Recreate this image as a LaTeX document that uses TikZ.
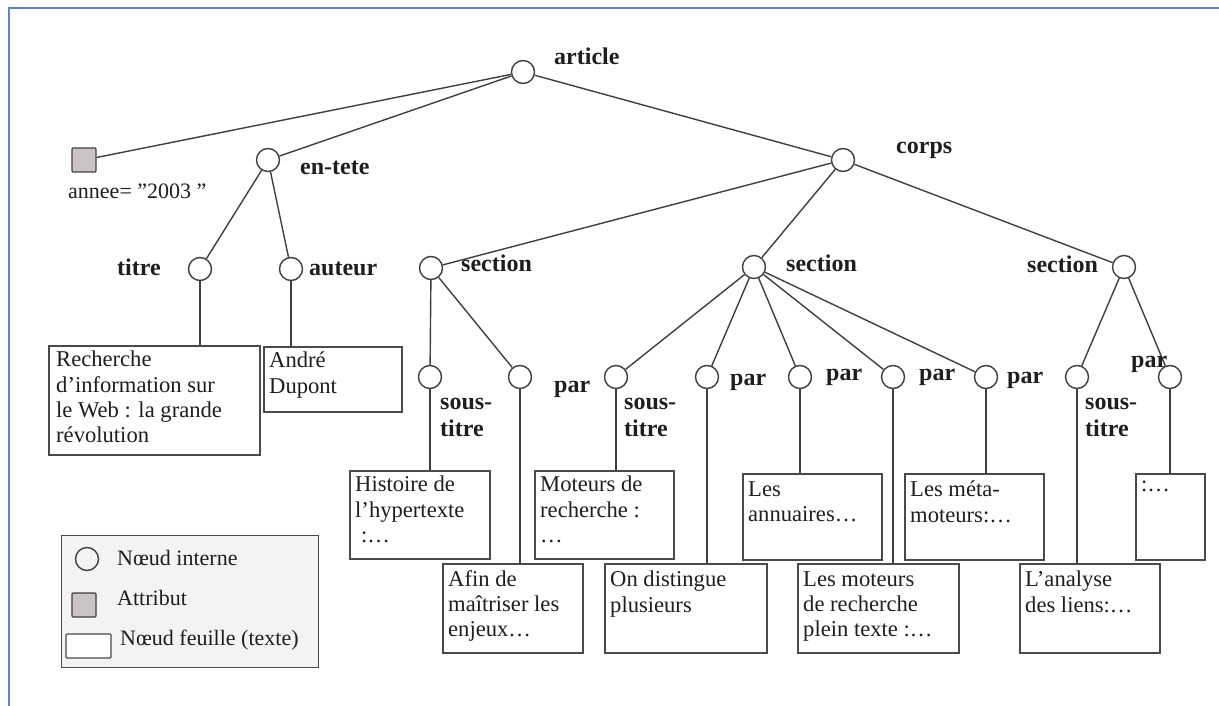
\documentclass[tikz,border=0pt]{standalone}
\usepackage{fontspec}
\setmainfont{Liberation Serif}
\definecolor{linec}{HTML}{3F3F3F}
\definecolor{boxc}{HTML}{4A4A4A}
\definecolor{txtc}{HTML}{1E1E1E}
\definecolor{attrc}{HTML}{CAC3C3}
\definecolor{legfill}{HTML}{F3F3F3}
\definecolor{framec}{HTML}{5B87C6}
\begin{document}
\begin{tikzpicture}[x=1pt,y=-1pt,
  inode/.style={circle, draw=linec, line width=1.4pt, minimum size=23pt, inner sep=0pt, fill=white},
  attr/.style={rectangle, draw=linec, line width=1.4pt, fill=attrc, minimum size=24pt, inner sep=0pt, rounded corners=1pt},
  lbl/.style={font=\fontsize{24}{27}\selectfont\bfseries, text=txtc, inner sep=0pt, anchor=base west},
  plain/.style={font=\fontsize{22}{25}\selectfont, text=txtc, inner sep=0pt, anchor=base west},
  leafbox/.style={rectangle, draw=boxc, line width=1.6pt, inner sep=0pt, anchor=north west},
  leaftxt/.style={font=\fontsize{22.6}{25.2}\selectfont, text=txtc, align=left, anchor=north west, inner sep=0pt},
  edge/.style={draw=linec, line width=1.4pt}]
\useasboundingbox (0,0) rectangle (1219,706);
% frame
\draw[framec, line width=2pt] (1219,8) -- (9,8) -- (9,706);

% internal nodes
\node[inode] (article) at (523,72) {};
\node[attr] (annee) at (84,160) {};
\node[inode] (entete) at (268,160) {};
\node[inode] (corps) at (843,160) {};
\node[inode] (titre) at (200,269) {};
\node[inode] (auteur) at (291,269) {};
\node[inode] (sec1) at (431,268) {};
\node[inode] (sec2) at (754,267) {};
\node[inode] (sec3) at (1124,267) {};
\node[inode] (st1) at (430,377) {};
\node[inode] (p1) at (520,377) {};
\node[inode] (st2) at (616,377) {};
\node[inode] (p2) at (707,377) {};
\node[inode] (p3) at (800,377) {};
\node[inode] (p4) at (893,377) {};
\node[inode] (p5) at (986,377) {};
\node[inode] (st3) at (1077,377) {};
\node[inode] (p6) at (1170,377) {};

% leaf boxes
\node[leafbox, minimum width=211pt, minimum height=109pt] (bRech) at (48,345) {};
\node[leafbox, minimum width=138pt, minimum height=65pt] (bAndre) at (263,346) {};
\node[leafbox, minimum width=140pt, minimum height=88pt] (bHist) at (349,470) {};
\node[leafbox, minimum width=140pt, minimum height=89pt] (bAfin) at (442,563) {};
\node[leafbox, minimum width=139pt, minimum height=88pt] (bMot) at (534,470) {};
\node[leafbox, minimum width=162pt, minimum height=89pt] (bDist) at (604,563) {};
\node[leafbox, minimum width=139pt, minimum height=86pt] (bAnn) at (742,473) {};
\node[leafbox, minimum width=161pt, minimum height=89pt] (bMoteurs) at (797,563) {};
\node[leafbox, minimum width=139pt, minimum height=86pt] (bMeta) at (904,473) {};
\node[leafbox, minimum width=140pt, minimum height=89pt] (bAnal) at (1019,563) {};
\node[leafbox, minimum width=69pt, minimum height=86pt] (bDots) at (1135,473) {};

% leaf texts
\node[leaftxt] (tRech) at ([xshift=8pt,yshift=-6pt]bRech.north west) {Recherche\\d'information sur\\le Web : la grande\\révolution};
\node[leaftxt] (tAndre) at ([xshift=6pt,yshift=-6pt]bAndre.north west) {André\\Dupont};
\node[leaftxt] (tHist) at ([xshift=6pt,yshift=-6pt]bHist.north west) {Histoire de\\l'hypertexte\\\hspace*{6pt}:…};
\node[leaftxt] (tAfin) at ([xshift=6pt,yshift=-7pt]bAfin.north west) {Afin de\\maîtriser les\\enjeux…};
\node[leaftxt] (tMot) at ([xshift=6pt,yshift=-6pt]bMot.north west) {Moteurs de\\recherche :\\…};
\node[leaftxt] (tDist) at ([xshift=6pt,yshift=-8pt]bDist.north west) {On distingue\\plusieurs};
\node[leaftxt] (tAnn) at ([xshift=6pt,yshift=-8pt]bAnn.north west) {Les\\annuaires…};
\node[leaftxt] (tMoteurs) at ([xshift=6pt,yshift=-8pt]bMoteurs.north west) {Les moteurs\\de recherche\\plein texte :…};
\node[leaftxt] (tMeta) at ([xshift=6pt,yshift=-8pt]bMeta.north west) {Les méta-\\moteurs:…};
\node[leaftxt] (tAnal) at ([xshift=6pt,yshift=-8pt]bAnal.north west) {L'analyse\\des liens:…};
\node[leaftxt] (tDots) at ([xshift=6pt,yshift=-8pt]bDots.north west) {:…};

% edges
\draw[edge] (article) -- (annee);
\draw[edge] (article) -- (entete);
\draw[edge] (article) -- (corps);
\draw[edge] (entete) -- (titre);
\draw[edge] (entete) -- (auteur);
\draw[edge] (corps) -- (sec1);
\draw[edge] (corps) -- (sec2);
\draw[edge] (corps) -- (sec3);
\draw[edge] (sec1) -- (st1);
\draw[edge] (sec1) -- (p1);
\draw[edge] (sec2) -- (st2);
\draw[edge] (sec2) -- (p2);
\draw[edge] (sec2) -- (p3);
\draw[edge] (sec2) -- (p4);
\draw[edge] (sec2) -- (p5);
\draw[edge] (sec3) -- (st3);
\draw[edge] (sec3) -- (p6);
\draw[edge] (titre.south) -- (titre.south |- bRech.north);
\draw[edge] (auteur.south) -- (auteur.south |- bAndre.north);
\draw[edge] (st1.south) -- (st1.south |- bHist.north);
\draw[edge] (p1.south) -- (p1.south |- bAfin.north);
\draw[edge] (st2.south) -- (st2.south |- bMot.north);
\draw[edge] (p2.south) -- (p2.south |- bDist.north);
\draw[edge] (p3.south) -- (p3.south |- bAnn.north);
\draw[edge] (p4.south) -- (p4.south |- bMoteurs.north);
\draw[edge] (p5.south) -- (p5.south |- bMeta.north);
\draw[edge] (st3.south) -- (st3.south |- bAnal.north);
\draw[edge] (p6.south) -- (p6.south |- bDots.north);

% labels
\node[lbl] (lArticle) at (554,65) {article};
\node[plain] (lAnnee) at (68,198) {annee= ”2003 ”};
\node[lbl] (lEntete) at (300,175) {en-tete};
\node[lbl] (lCorps) at (896,154) {corps};
\node[lbl] (lTitre) at (117,275) {titre};
\node[lbl] (lAuteur) at (309,275) {auteur};
\node[lbl] (lSec1) at (461,271) {section};
\node[lbl] (lSec2) at (786,271) {section};
\node[lbl] (lSec3) at (1027,272) {section};
\node[lbl, align=left, anchor=north west] (lSt1) at (440,398) {sous-\\titre};
\node[lbl] (lP1) at (554,392) {par};
\node[lbl, align=left, anchor=north west] (lSt2) at (624,398) {sous-\\titre};
\node[lbl] (lP2) at (730,385) {par};
\node[lbl] (lP3) at (826,380) {par};
\node[lbl] (lP4) at (919,380) {par};
\node[lbl] (lP5) at (1007,383) {par};
\node[lbl, align=left, anchor=north west] (lSt3) at (1085,398) {sous-\\titre};
\node[lbl] (lP6) at (1131,367) {par};

% legend
\node[rectangle, draw=boxc, line width=1.4pt, fill=legfill, minimum width=257pt, minimum height=132pt, anchor=north west, inner sep=0pt] (legend) at (61,535) {};
\node[inode, fill=legfill] (legCirc) at (87,559) {};
\node[attr] (legSq) at (84,605) {};
\node[rectangle, draw=boxc, line width=1.4pt, fill=white, minimum width=45pt, minimum height=24pt, inner sep=0pt, rounded corners=1pt] (legRect) at (88.5,646) {};
\node[plain] (legT1) at (117,565) {Nœud interne};
\node[plain] (legT2) at (117,605) {Attribut};
\node[plain] (legT3) at (120,645) {Nœud feuille (texte)};
\end{tikzpicture}
\end{document}
